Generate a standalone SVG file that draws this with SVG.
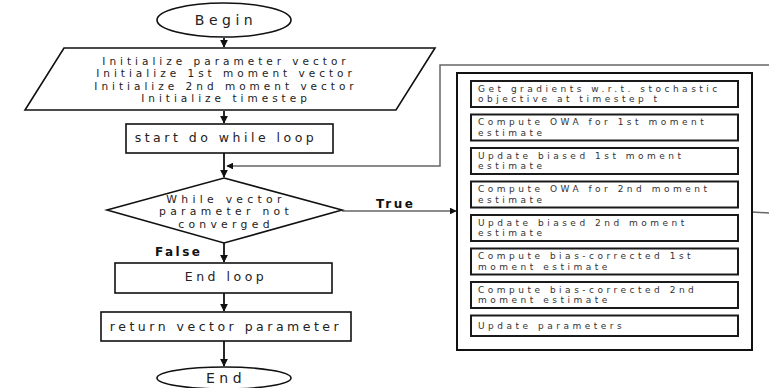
<svg xmlns="http://www.w3.org/2000/svg" width="769" height="388" viewBox="0 0 769 388">
<defs>
<style>
.shape{fill:#fff;stroke:#111;stroke-width:1.6}
.sub{fill:#fff;stroke:#1a1a1a;stroke-width:2}
.t{font-family:"DejaVu Sans",sans-serif;font-size:12.5px;letter-spacing:3.5px;fill:#222;text-anchor:middle}
.td{font-family:"DejaVu Sans",sans-serif;font-size:10.8px;letter-spacing:4.3px;fill:#222;text-anchor:middle}
.tp{font-family:"DejaVu Sans",sans-serif;font-size:10.5px;letter-spacing:4px;fill:#222;text-anchor:middle}
.ts{font-family:"DejaVu Sans",sans-serif;font-size:9px;letter-spacing:3.5px;fill:#333}
.lbl{font-family:"DejaVu Sans",sans-serif;font-size:12px;font-weight:bold;letter-spacing:2.5px;fill:#111}
.c{fill:none;stroke:#111;stroke-width:1.8}
.g{fill:none;stroke:#666;stroke-width:1.5}
</style>
<marker id="ah" viewBox="0 0 10 10" refX="9" refY="5" markerWidth="4.5" markerHeight="4.5" orient="auto"><path d="M0,0 L10,5 L0,10 z" fill="#111"/></marker>
</defs>
<g id="connectors">
<line class="c" x1="224" y1="38" x2="224" y2="47" marker-end="url(#ah)"/>
<line class="c" x1="224" y1="111" x2="224" y2="123" marker-end="url(#ah)"/>
<line class="c" x1="224" y1="153" x2="224" y2="177" marker-end="url(#ah)"/>
<line class="c" x1="224" y1="243" x2="224" y2="262" marker-end="url(#ah)"/>
<line class="c" x1="224" y1="293" x2="224" y2="311" marker-end="url(#ah)"/>
<line class="c" x1="224" y1="341" x2="224" y2="366" marker-end="url(#ah)"/>
<polyline class="g" points="769,65 440,65 440,166 227,166" marker-end="url(#ah)"/>
<line class="g" x1="342" y1="211" x2="456" y2="211" marker-end="url(#ah)"/>
<line class="g" x1="752" y1="212" x2="769" y2="213"/>
<text class="lbl" x="376" y="208">True</text>
<text class="lbl" x="155" y="256">False</text>
</g>
<g id="begin">
<ellipse class="shape" cx="224" cy="20" rx="67" ry="17"/>
<text class="t" x="226" y="25" style="font-size:14px;letter-spacing:4.5px">Begin</text>
</g>
<g id="init">
<polygon class="shape" points="64,48 435,48 396,110 25,110"/>
<text class="tp" x="226" y="64.5">Initialize parameter vector</text>
<text class="tp" x="226" y="77">Initialize 1st moment vector</text>
<text class="tp" x="226" y="89.5">Initialize 2nd moment vector</text>
<text class="tp" x="226" y="102">Initialize timestep</text>
</g>
<g id="start">
<rect class="shape" x="126" y="124" width="207" height="29"/>
<text class="t" x="226" y="142">start do while loop</text>
</g>
<g id="decision">
<polygon class="shape" points="224,178 342,210 224,243 107,210"/>
<text class="td" x="226" y="202.5">While vector</text>
<text class="td" x="226" y="215">parameter not</text>
<text class="td" x="226" y="227.5">converged</text>
</g>
<g id="endloop">
<rect class="shape" x="115" y="263" width="217" height="30"/>
<text class="t" x="226" y="281">End loop</text>
</g>
<g id="return">
<rect class="shape" x="101" y="312" width="250" height="29"/>
<text class="t" x="226" y="331">return vector parameter</text>
</g>
<g id="end">
<ellipse class="shape" cx="224" cy="378" rx="67" ry="11"/>
<text class="t" x="226" y="383" style="font-size:14px;letter-spacing:4.5px">End</text>
</g>
<g id="loop-body">
<rect class="shape" x="457" y="73" width="295" height="277" style="stroke-width:2"/>
<g id="s1"><rect class="sub" x="471" y="81" width="267" height="26"/><text class="ts" x="478" y="91.5">Get gradients w.r.t. stochastic</text><text class="ts" x="478" y="102">objective at timestep t</text></g>
<g id="s2"><rect class="sub" x="471" y="114.5" width="267" height="26"/><text class="ts" x="478" y="125">Compute OWA for 1st moment</text><text class="ts" x="478" y="135.5">estimate</text></g>
<g id="s3"><rect class="sub" x="471" y="148" width="267" height="26"/><text class="ts" x="478" y="158.5">Update biased 1st moment</text><text class="ts" x="478" y="169">estimate</text></g>
<g id="s4"><rect class="sub" x="471" y="181.5" width="267" height="26"/><text class="ts" x="478" y="192">Compute OWA for 2nd moment</text><text class="ts" x="478" y="202.5">estimate</text></g>
<g id="s5"><rect class="sub" x="471" y="215" width="267" height="26"/><text class="ts" x="478" y="225.5">Update biased 2nd moment</text><text class="ts" x="478" y="236">estimate</text></g>
<g id="s6"><rect class="sub" x="471" y="248.5" width="267" height="26"/><text class="ts" x="478" y="259">Compute bias-corrected 1st</text><text class="ts" x="478" y="269.5">moment estimate</text></g>
<g id="s7"><rect class="sub" x="471" y="282" width="267" height="26"/><text class="ts" x="478" y="292.5">Compute bias-corrected 2nd</text><text class="ts" x="478" y="303">moment estimate</text></g>
<g id="s8"><rect class="sub" x="471" y="315.5" width="267" height="20.5"/><text class="ts" x="478" y="329">Update parameters</text></g>
</g>
</svg>
